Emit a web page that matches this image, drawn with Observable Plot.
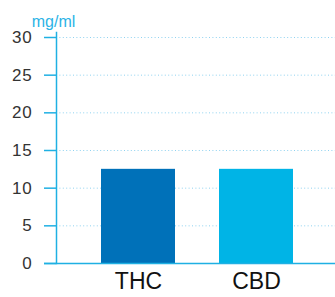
<!DOCTYPE html>
<html>
<head>
<meta charset="utf-8">
<script src="https://cdn.jsdelivr.net/npm/d3@7"></script>
<script src="https://cdn.jsdelivr.net/npm/@observablehq/plot@0.6"></script>
<style>
  html, body { margin: 0; padding: 0; background: #fff; }
  svg { display: block; }
  .yax text { letter-spacing: 0.8px; }
</style>
</head>
<body>
<div id="chart"></div>
<script>
const categories = ["THC", "CBD"];
const values = [12.5, 12.5];
const colors = ["#0071b9", "#00b4e6"];
const yTicks = [0, 5, 10, 15, 20, 25, 30];
const unitLabel = "mg/ml";

const data = categories.map((c, i) => ({cat: c, value: values[i], color: colors[i]}));

const axisColor = "#1fb0e3";

const chart = Plot.plot({
  width: 335,
  height: 297,
  marginLeft: 56,
  marginRight: -3,
  marginTop: 37,
  marginBottom: 34,
  style: {fontFamily: "Liberation Sans, Arial, sans-serif", background: "#fff", overflow: "hidden"},
  x: {domain: categories, padding: 0.375, align: 0.5},
  y: {domain: [0, 30]},
  marks: [
    Plot.gridY(yTicks.filter(d => d > 0), {stroke: "#8fd2f0", strokeOpacity: 1, strokeDasharray: "1,2.4", strokeWidth: 1}),
    Plot.barY(data, {x: "cat", y: "value", fill: "color"}),
    Plot.frame({anchor: "left", stroke: axisColor, strokeWidth: 1.5, insetTop: -5}),
    Plot.ruleY([0], {stroke: axisColor, strokeWidth: 1.5, insetLeft: -12}),
    Plot.axisY({ticks: yTicks, tickSize: 12, tickPadding: 12, stroke: axisColor, strokeWidth: 1.5, color: "#333", fontSize: 17, label: null, className: "yax"}),
    Plot.axisX({tickSize: 0, tickPadding: 9, fontSize: 23, color: "#111", label: null}),
    Plot.text([unitLabel], {frameAnchor: "top-left", dx: -3, dy: -22, fill: "#2bb3e6", fontSize: 16, textAnchor: "middle"})
  ]
});
document.getElementById("chart").appendChild(chart);
</script>
</body>
</html>
